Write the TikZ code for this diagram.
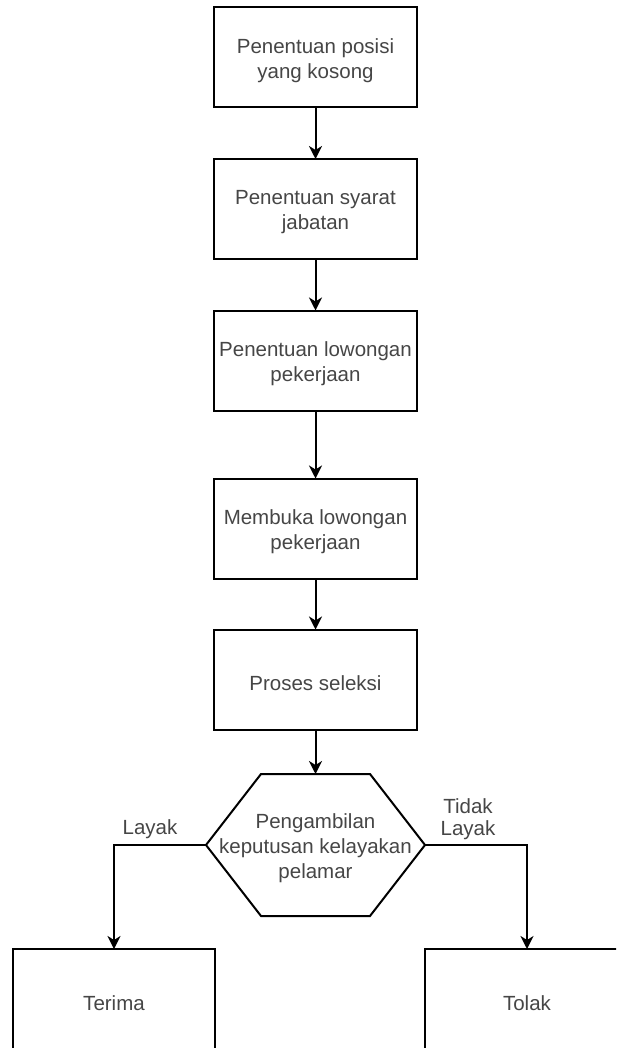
\documentclass[tikz,border=0pt]{standalone}
\usepackage{fontspec}
\setmainfont{Liberation Sans}
\usetikzlibrary{arrows.meta,positioning}
\definecolor{txt}{RGB}{70,70,70}
\tikzset{
  txtstyle/.style={align=center, text=txt, font=\fontsize{20.5}{25}\selectfont, inner sep=0pt},
  box/.style={draw=black, line width=2pt, minimum width=203pt, minimum height=100pt, inner sep=0pt, outer sep=0pt},
  boxtext/.style={label={[txtstyle, yshift=-3.5pt]center:{#1}}},
  hexbox/.style={minimum width=219pt, minimum height=142pt, inner sep=0pt, outer sep=0pt},
  lbl/.style={align=center, text=txt, font=\fontsize{20.5}{22}\selectfont, inner sep=0pt},
  conn/.style={draw=black, line width=2pt, -{Stealth[length=13pt,width=13pt,inset=4pt]}},
}
\begin{document}
\begin{tikzpicture}[x=1pt,y=-1pt]
\fill[white] (0,0) rectangle (616,1048);
\useasboundingbox (0,0) rectangle (616,1048);
\clip (0,0) rectangle (616,1048);
\node[box, boxtext={Penentuan posisi\\yang kosong}] (b1) at (315.5,57) {};
\node[box, boxtext={Penentuan syarat\\jabatan}] (b2) at (315.5,209) {};
\node[box, boxtext={Penentuan lowongan\\pekerjaan}] (b3) at (315.5,360.5) {};
\node[box, boxtext={Membuka lowongan\\pekerjaan}] (b4) at (315.5,528.5) {};
\node[box, boxtext={Proses seleksi}] (b5) at (315.5,679.5) {};
\node[hexbox, boxtext={Pengambilan\\keputusan kelayakan\\pelamar}] (h) at (315.5,845) {};
\draw[line width=2pt, line join=miter] (h.west) -- ([xshift=55pt]h.north west) -- ([xshift=-55pt]h.north east) -- (h.east) -- ([xshift=-55pt]h.south east) -- ([xshift=55pt]h.south west) -- cycle;
\node[box, minimum width=202pt, minimum height=101pt, boxtext={Terima}] (t1) at (114,999.5) {};
\node[box, minimum width=204pt, minimum height=101pt, boxtext={Tolak}] (t2) at (527,999.5) {};
\draw[conn] (b1) -- (b2);
\draw[conn] (b2) -- (b3);
\draw[conn] (b3) -- (b4);
\draw[conn] (b4) -- (b5);
\draw[conn] (b5) -- (h.north);
\draw[conn] (h.west) -| (t1.north);
\draw[conn] (h.east) -| (t2.north);
\node[lbl] (l1) at (150,829) {Layak};
\node[lbl] (l2) at (468,819) {Tidak\\Layak};
\end{tikzpicture}
\end{document}
